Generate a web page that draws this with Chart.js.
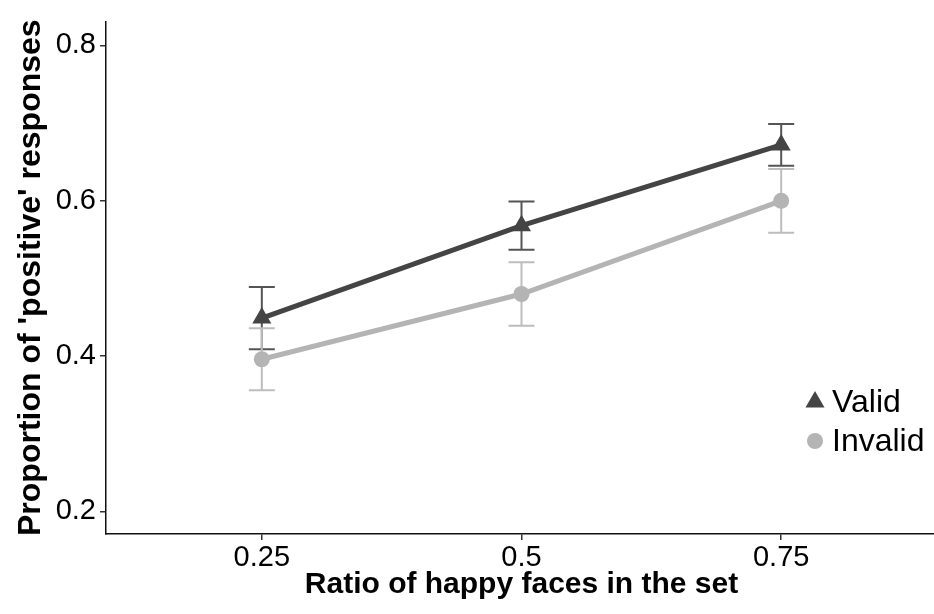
<!DOCTYPE html>
<html>
<head>
<meta charset="utf-8">
<script src="https://cdn.jsdelivr.net/npm/chart.js@4.4.0/dist/chart.umd.min.js"></script>
<style>
html, body { margin: 0; padding: 0; background: #fff; overflow: hidden; }
#wrap { width: 948px; height: 614px; }
</style>
</head>
<body>
<div id="wrap"><canvas id="myChart" width="948" height="614"></canvas></div>
<script>
const ratios = ['0.25', '0.5', '0.75'];
const validMeans = [0.449, 0.568, 0.672];
const validErr = [0.040, 0.031, 0.027];
const invalidMeans = [0.396, 0.480, 0.600];
const invalidErr = [0.040, 0.041, 0.041];
const yTicks = [0.2, 0.4, 0.6, 0.8];

const fontFamily = "'Liberation Sans', Arial, sans-serif";
Chart.defaults.font.family = fontFamily;

function toPoints(values) {
    return values.map((v, i) => ({ x: i + 1, y: v }));
}

// error bars drawn under the lines
const errorBars = {
    id: 'errorBars',
    beforeDatasetsDraw(chart) {
        const ctx = chart.ctx;
        const xs = chart.scales.x;
        const ys = chart.scales.y;
        chart.data.datasets.forEach(ds => {
            ctx.save();
            ctx.strokeStyle = ds.errColor;
            ctx.lineWidth = 2;
            ds.data.forEach((pt, i) => {
                const px = xs.getPixelForValue(pt.x);
                const top = ys.getPixelForValue(pt.y + ds.err[i]);
                const bot = ys.getPixelForValue(pt.y - ds.err[i]);
                ctx.beginPath();
                ctx.moveTo(px, top); ctx.lineTo(px, bot);
                ctx.moveTo(px - 13, top); ctx.lineTo(px + 13, top);
                ctx.moveTo(px - 13, bot); ctx.lineTo(px + 13, bot);
                ctx.stroke();
            });
            ctx.restore();
        });
    }
};

// legend on the right, inside the panel
const sideLegend = {
    id: 'sideLegend',
    afterDraw(chart) {
        const ctx = chart.ctx;
        const x0 = 815, y0 = 402, gap = 39;
        ctx.save();
        chart.data.datasets.forEach((ds, i) => {
            const y = y0 + i * gap;
            ctx.fillStyle = ds.pointBackgroundColor;
            Chart.helpers.drawPoint(ctx, { pointStyle: ds.pointStyle, radius: ds.pointStyle === 'triangle' ? 11 : 8, rotation: 0, borderWidth: 0 }, x0, y);
            ctx.fillStyle = '#000';
            ctx.font = '32px ' + fontFamily;
            ctx.textBaseline = 'middle';
            ctx.textAlign = 'left';
            ctx.fillText(ds.label, x0 + 17, y + 1);
        });
        ctx.restore();
    }
};

const ctx = document.getElementById('myChart').getContext('2d');
const myChart = new Chart(ctx, {
    type: 'line',
    data: {
        datasets: [{
            label: 'Valid',
            data: toPoints(validMeans),
            err: validErr,
            errColor: '#555555',
            borderColor: '#444444',
            borderWidth: 5,
            pointStyle: 'triangle',
            pointRadius: 11,
            pointBackgroundColor: '#444444',
            pointBorderWidth: 0,
            tension: 0
        }, {
            label: 'Invalid',
            data: toPoints(invalidMeans),
            err: invalidErr,
            errColor: '#bdbdbd',
            borderColor: '#b4b4b4',
            borderWidth: 5,
            pointStyle: 'circle',
            pointRadius: 8,
            pointBackgroundColor: '#b4b4b4',
            pointBorderWidth: 0,
            tension: 0
        }]
    },
    options: {
        responsive: false,
        animation: false,
        layout: { padding: { top: 17, left: 0, right: 0, bottom: 0 } },
        plugins: {
            legend: { display: false },
            tooltip: { enabled: false }
        },
        scales: {
            x: {
                type: 'linear',
                min: 0.4,
                max: 3.6,
                afterBuildTicks: s => { s.ticks = ratios.map((r, i) => ({ value: i + 1 })); },
                afterFit: s => { s.height = 80; },
                ticks: {
                    callback: (v, i) => ratios[i],
                    font: { size: 29 },
                    color: '#000',
                    padding: 1,
                    maxRotation: 0
                },
                grid: { display: true, drawOnChartArea: false, drawTicks: true, tickLength: 6, color: '#333', lineWidth: 1.5 },
                border: { display: true, color: '#111', width: 1.5 },
                title: {
                    display: true,
                    text: 'Ratio of happy faces in the set',
                    font: { size: 30, weight: 'bold' },
                    color: '#000',
                    padding: { top: 0, bottom: 11 }
                }
            },
            y: {
                min: 0.171,
                max: 0.831,
                afterBuildTicks: s => { s.ticks = yTicks.map(v => ({ value: v })); },
                afterFit: s => { s.width = 106; },
                ticks: {
                    callback: v => v.toFixed(1),
                    font: { size: 29 },
                    color: '#000',
                    padding: 4
                },
                grid: { display: true, drawOnChartArea: false, drawTicks: true, tickLength: 6, color: '#333', lineWidth: 1.5 },
                border: { display: true, color: '#111', width: 1.5 },
                title: {
                    display: true,
                    text: "Proportion of 'positive' responses",
                    font: { size: 32, weight: 'bold' },
                    color: '#000',
                    padding: { top: 12, bottom: 0 }
                }
            }
        }
    },
    plugins: [errorBars, sideLegend]
});
</script>
</body>
</html>
